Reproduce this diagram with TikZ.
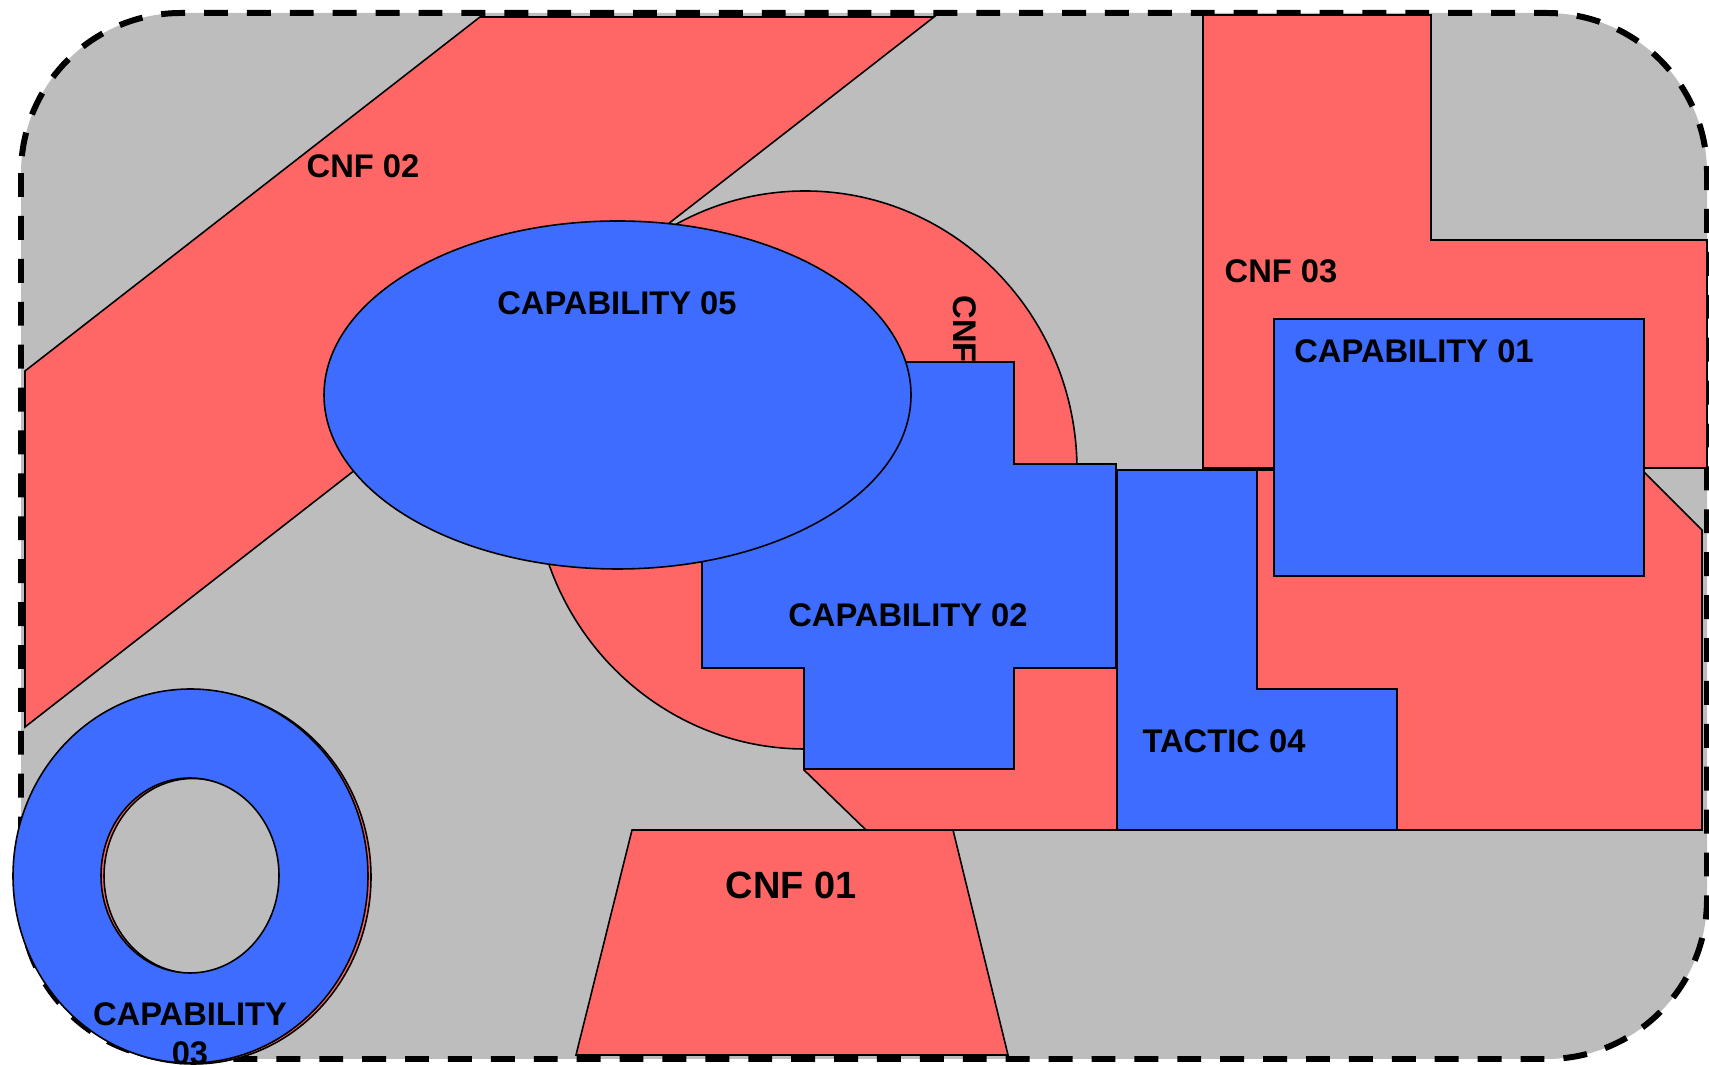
\documentclass[tikz,border=0pt]{standalone}
\usepackage{fontspec}
\setmainfont{Liberation Sans}
\definecolor{cnfred}{RGB}{255,102,102}
\definecolor{capblue}{RGB}{61,108,255}
\definecolor{fieldgray}{RGB}{189,189,189}

\begin{document}
\begin{tikzpicture}[
    x=0.01cm, y=-0.01cm,
    % Area styles
    cnfzone/.style={draw=black, line width=0.45pt, fill=cnfred},
    capzone/.style={draw=black, line width=0.45pt, fill=capblue},
    tag/.style={font=\bfseries\fontsize{9.3}{11}\selectfont, inner sep=0pt},
]
\useasboundingbox (0,0) rectangle (1709,1065);

    % Operating area
    \draw[fill=fieldgray, line width=1.7pt, dash pattern=on 6.8pt off 5.4pt, rounded corners=1.6cm] (21,13) rectangle (1707,1059);

    % CNF areas
    \draw[cnfzone] (25,371) -- (480,17) -- (934,17) -- (600,277) -- (450,396) -- (25,727) -- cycle;
    \node[tag] (cnf02) at (363,166) {CNF 02};

    \draw[cnfzone] (805,470) ellipse [x radius=272, y radius=279];
    \node[tag, rotate=-90, anchor=west] (cnf04) at (965,295) {CNF};

    \draw[cnfzone] (804,770) -- (866,830) -- (1702,830) -- (1702,530) -- (1642,470) -- (1130,470) -- (1130,520) -- (1030,520) -- (820,700) -- cycle;

    \draw[cnfzone] (1203,15) -- (1431,15) -- (1431,240) -- (1707,240) -- (1707,468) -- (1203,468) -- cycle;
    \node[tag] (cnf03) at (1281,271) {CNF 03};

    \draw[cnfzone] (632,830) -- (953,830) -- (1008,1055) -- (576,1055) -- cycle;
    \node[tag, font=\bfseries\fontsize{10.8}{13}\selectfont] (cnf01) at (791,885) {CNF 01};

    % Capabilities and tactic
    \draw[capzone] (804,362) -- (1014,362) -- (1014,464) -- (1116,464) -- (1116,668) -- (1014,668) -- (1014,769) -- (804,769) -- (804,668) -- (702,668) -- (702,464) -- (804,464) -- cycle;
    \node[tag] (cap02) at (908,615) {CAPABILITY 02};

    \draw[capzone] (617.5,395) ellipse [x radius=293.5, y radius=174];
    \node[tag] (cap05) at (617,303) {CAPABILITY 05};

    \draw[capzone] (1117,470) -- (1257,470) -- (1257,689) -- (1397,689) -- (1397,830) -- (1117,830) -- cycle;
    \node[tag] (tac04) at (1224,741) {TACTIC 04};

    \draw[capzone] (1274,319) rectangle (1644,576);
    \node[tag] (cap01) at (1414,351) {CAPABILITY 01};

    \draw[cnfzone, even odd rule] (193.5,877) ellipse [x radius=177.5, y radius=187] (193,876) ellipse [x radius=89, y radius=97.5];
    \draw[capzone, even odd rule] (190.5,876) ellipse [x radius=177.5, y radius=187] (190,875.5) ellipse [x radius=89, y radius=97.5];
    \node[tag, align=center] (cap03) at (190,1034) {CAPABILITY\\03};

\end{tikzpicture}
\end{document}
